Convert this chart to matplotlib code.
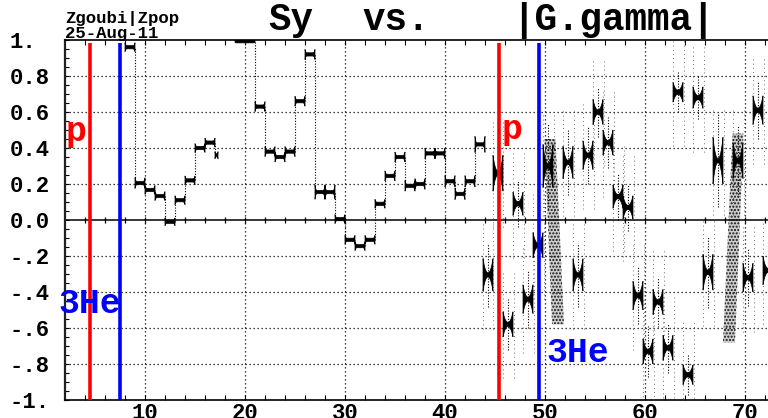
"""
Zgoubi|Zpop style plot: vertical spin component Sy versus |G.gamma|.
Spin plateaus drawn as bow-tie clusters, p / 3He markers as coloured lines.
"""
import matplotlib
matplotlib.use('Agg')
import matplotlib.pyplot as plt
from matplotlib.patches import Polygon
import numpy as np

MONO = 'Liberation Mono'

# low G.gamma: narrow plateaus, one per integer
lo_start = [8, 9, 10, 11, 12, 13, 14, 15, 16, 17,
            19, 20, 21, 22, 23, 24, 25, 26, 27, 28,
            29, 30, 31, 32, 33, 34, 35, 36, 37, 38,
            39, 40, 41, 42, 43]
lo_end = [9, 10, 11, 12, 13, 14, 15, 16, 17, 17.3,
          20, 21, 22, 23, 24, 25, 26, 27, 28, 29,
          30, 31, 32, 33, 34, 35, 36, 37, 38, 39,
          40, 41, 42, 43, 44]
lo_sy = [0.96, 0.205, 0.167, 0.133, -0.01, 0.11, 0.22, 0.40, 0.43, 0.36,
         0.993, 0.993, 0.63, 0.38, 0.35, 0.38, 0.66, 0.92, 0.155, 0.155,
         0.005, -0.11, -0.145, -0.11, 0.09, 0.245, 0.35, 0.19, 0.20, 0.37,
         0.37, 0.215, 0.145, 0.215, 0.42]
lo_spread = [0.025, 0.03, 0.025, 0.025, 0.022, 0.025, 0.025, 0.025, 0.025, 0.02,
             0.007, 0.007, 0.028, 0.028, 0.028, 0.028, 0.028, 0.028, 0.04, 0.04,
             0.025, 0.025, 0.025, 0.025, 0.025, 0.028, 0.028, 0.03, 0.03, 0.03,
             0.03, 0.032, 0.032, 0.032, 0.045]

# high G.gamma: wide bow-tie clusters
hi_gg = [44.3, 45.3, 46.3, 47.3, 48.3, 49.3, 50.3, 52.3, 53.3, 54.3,
         55.3, 56.3, 57.3, 58.3, 59.3, 60.3, 61.3, 62.3, 63.3, 64.3,
         65.3, 66.3, 67.3, 69.3, 70.3, 71.3, 72.3]
hi_sy = [-0.305, 0.26, -0.58, 0.09, -0.44, -0.14, 0.30, 0.32, -0.305, 0.36,
         0.60, 0.43, 0.13, 0.07, -0.42, -0.73, -0.455, -0.71, 0.71, -0.86,
         0.68, -0.29, 0.33, 0.33, -0.32, 0.61, -0.28]
hi_spread = [0.09, 0.10, 0.07, 0.065, 0.08, 0.07, 0.12, 0.09, 0.09, 0.08,
             0.07, 0.07, 0.065, 0.065, 0.08, 0.07, 0.07, 0.07, 0.055, 0.055,
             0.06, 0.10, 0.13, 0.10, 0.08, 0.08, 0.08]

# diffuse clouds (depolarised bunches): top and bottom of each band
cloud_top_x = [50.5, 69.3]
cloud_top_y = [0.45, 0.48]
cloud_bot_x = [51.3, 68.4]
cloud_bot_y = [-0.58, -0.68]

# resonance markers
p_lines = [4.5, 45.4]
he3_lines = [7.45, 49.4]

y_ticks = [-1, -0.8, -0.6, -0.4, -0.2, 0, 0.2, 0.4, 0.6, 0.8, 1]
y_ticklabels = ['-1.', '-.8', '-.6', '-.4', '-.2', '0.0', '0.2', '0.4', '0.6', '0.8', '1.']
x_ticks = [10, 20, 30, 40, 50, 60, 70]


def bowtie(ax, x0, x1, y, spread, core, power):
    t = np.linspace(-1, 1, 61)
    xs = x0 + (t + 1) / 2 * (x1 - x0)
    h = core + (spread - core) * np.abs(t) ** power
    pts = np.concatenate([np.column_stack([xs, y + h]),
                          np.column_stack([xs[::-1], (y - h)[::-1]])])
    ax.add_patch(Polygon(pts, closed=True, facecolor='black',
                         edgecolor='black', lw=0.5, zorder=4))


fig = plt.figure(figsize=(7.68, 4.18), dpi=100)
fig.patch.set_facecolor('white')
ax = fig.add_axes([65 / 768, 18 / 418, 710 / 768, 360 / 418])
ax.set_xlim(2, 73)
ax.set_ylim(-1, 1)

# dotted grid
dots = (0, (1, 2.2))
for yv in [-0.8, -0.6, -0.4, -0.2, 0.2, 0.4, 0.6, 0.8]:
    ax.axhline(yv, color='black', lw=0.9, ls=dots, zorder=1)
for xv in x_ticks:
    ax.axvline(xv, color='black', lw=0.9, ls=dots, zorder=1)

# zero line with its own ticks
zt = np.arange(4, 73, 2)
ax.axhline(0, color='black', lw=1.1, zorder=2)
ax.plot(zt, np.zeros(len(zt)), ls='none', marker='|', ms=5, mew=0.9,
        color='black', zorder=2)

# low G.gamma plateaus and their transitions
for i in range(len(lo_start)):
    bowtie(ax, lo_start[i], lo_end[i], lo_sy[i], lo_spread[i], 0.009, 8)
    if i > 0 and lo_start[i] == lo_end[i - 1]:
        ax.vlines(lo_start[i], min(lo_sy[i - 1], lo_sy[i]), max(lo_sy[i - 1], lo_sy[i]),
                  colors='black', lw=0.8, linestyles=(0, (1, 1.5)), zorder=3)

# high G.gamma clusters with their scattered tails
for c, yv, s in zip(hi_gg, hi_sy, hi_spread):
    bowtie(ax, c - 0.5, c + 0.5, yv, s, 0.012, 2.2)
    ax.vlines([c - 0.55, c + 0.55], yv - 0.3, yv + 0.3, colors='#444444',
              lw=0.6, linestyles=(0, (1, 4)), zorder=3)
    ax.vlines(c, yv - 2.0 * s, yv + 2.0 * s, colors='black', lw=0.8,
              linestyles=(0, (1, 1.5)), zorder=3)

for xt, yt, xb, yb in zip(cloud_top_x, cloud_top_y, cloud_bot_x, cloud_bot_y):
    band = [(xt - 0.55, yt), (xt + 0.55, yt), (xb + 0.6, yb), (xb - 0.6, yb)]
    ax.add_patch(Polygon(band, closed=True, facecolor=(0, 0, 0, 0.2),
                         edgecolor='#111111', hatch='.....', lw=0, zorder=3))

# p / 3He lines
ax.vlines(p_lines, -1, 0.985, colors='#ff0000', lw=2.6, zorder=6)
ax.vlines(he3_lines, -1, 0.985, colors='#0000ff', lw=2.6, zorder=6)

txt = dict(family=MONO, fontweight='bold', fontsize=25, clip_on=False, zorder=7)
ax.text(2.0, 0.44, 'p', color='#ff0000', va='baseline', ha='left', **txt)
ax.text(1.3, -0.517, '3He', color='#0000ff', va='baseline', ha='left', **txt)
ax.text(45.7, 0.45, 'p', color='#ff0000', va='baseline', ha='left', **txt)
ax.text(50.1, -0.79, '3He', color='#0000ff', va='baseline', ha='left', **txt)

# axes frame and ticks
ax.spines['right'].set_visible(False)
ax.spines['left'].set_linewidth(1.6)
ax.spines['left'].set_color('#222222')
for side in ['top', 'bottom']:
    ax.spines[side].set_linewidth(1.2)
    ax.spines[side].set_linestyle((0, (2, 1)))

ax.set_xticks(x_ticks)
ax.set_xticklabels([str(v) for v in x_ticks])
ax.set_xticks(zt, minor=True)
ax.set_yticks(y_ticks)
ax.set_yticklabels(y_ticklabels)
ax.set_yticks(np.arange(-1, 1.001, 0.05), minor=True)
ax.tick_params(axis='x', which='both', direction='in', top=True, bottom=True,
               length=3.5, width=0.8, pad=2)
ax.tick_params(axis='y', which='both', direction='in', left=True, right=False,
               length=3, width=0.8, pad=40)
for lbl in ax.get_yticklabels():
    lbl.set_horizontalalignment('left')
for lbl in ax.get_xticklabels() + ax.get_yticklabels():
    lbl.set_fontfamily(MONO)
    lbl.set_fontweight('bold')
    lbl.set_fontsize(16)

# header texts
fig.text(65 / 768, 1 - 23 / 418, 'Zgoubi|Zpop', family=MONO, fontweight='bold',
         fontsize=12.5, va='baseline', ha='left')
fig.text(65 / 768, 1 - 38 / 418, '25-Aug-11', family=MONO, fontweight='bold',
         fontsize=12.5, va='baseline', ha='left')
title = dict(family=MONO, fontweight='bold', fontsize=27, va='baseline', ha='left')
fig.text(268 / 768, 1 - 30 / 418, 'Sy', **title)
fig.text(362 / 768, 1 - 30 / 418, 'vs.', **title)
fig.text(512 / 768, 1 - 30 / 418, '|G.gamma|', **title)

fig.savefig('out.png', dpi=100, facecolor='white')
plt.close(fig)
